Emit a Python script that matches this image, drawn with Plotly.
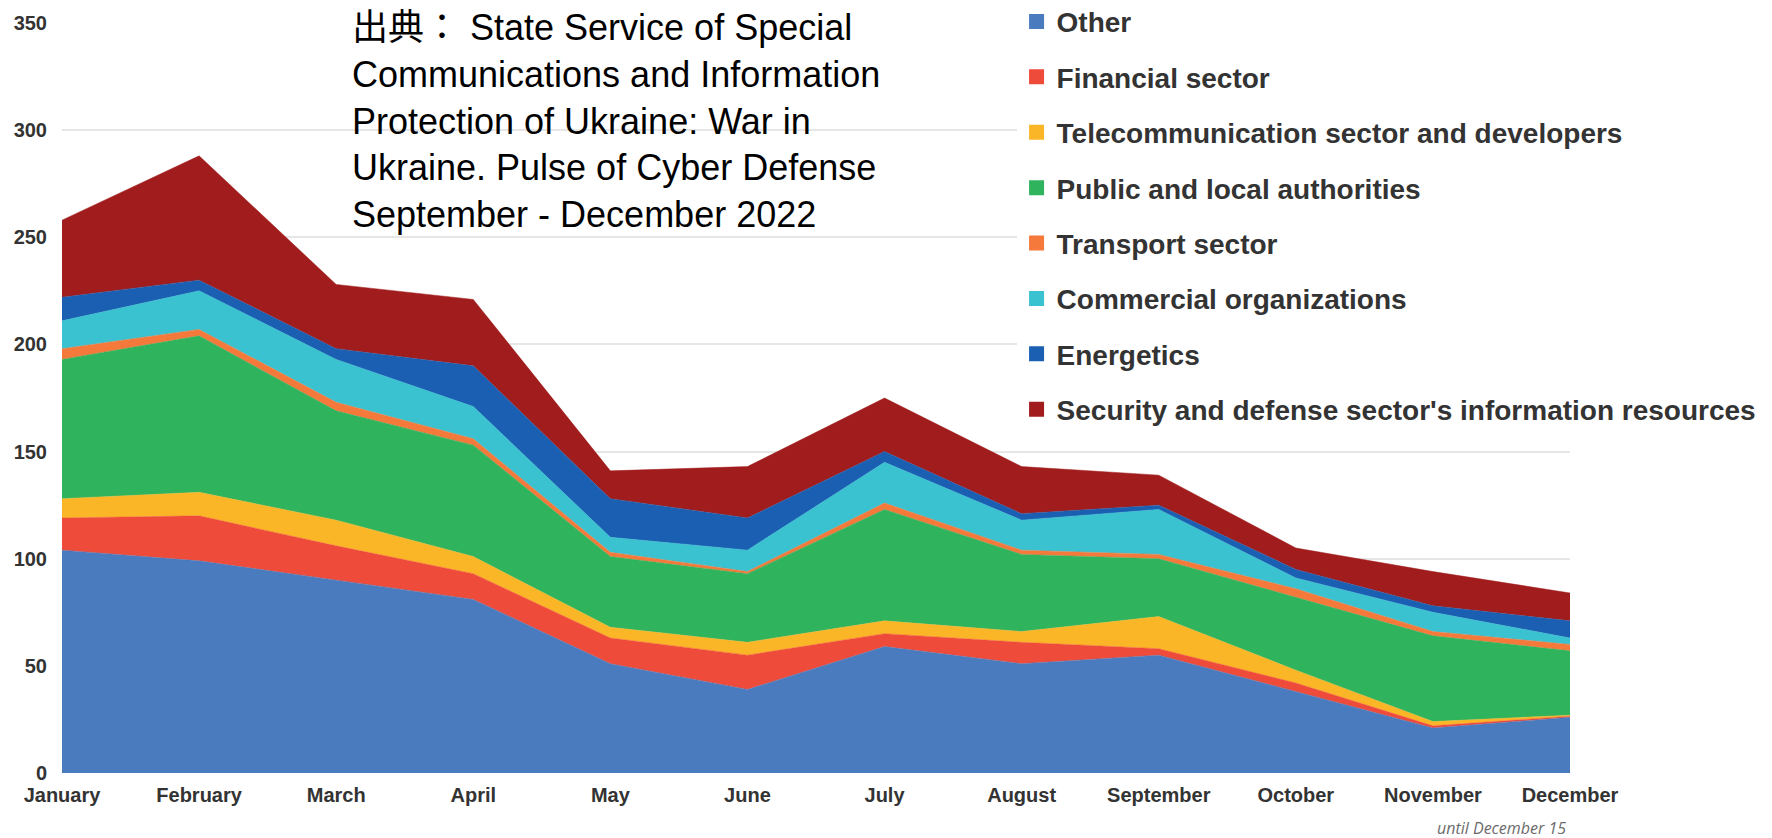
import plotly.graph_objects as go

months = ["January", "February", "March", "April", "May", "June", "July",
          "August", "September", "October", "November", "December"]

series_names = ["Other", "Financial sector", "Telecommunication sector and developers",
                "Public and local authorities", "Transport sector", "Commercial organizations",
                "Energetics", "Security and defense sector's information resources"]

other = [104, 99, 90, 81, 51, 39, 59, 51, 55, 38, 21, 26]
financial = [15, 21, 16, 12, 12, 16, 6, 10, 3, 4, 1, 0.5]
telecom = [9, 11, 12, 8, 5, 6, 6, 5, 15, 6, 2, 0.5]
public = [65, 73, 51, 52, 33, 32, 52, 36, 27, 34, 40, 30]
transport = [5, 3, 4, 3, 2, 1, 3, 2, 2, 4, 2, 3]
commercial = [13, 18, 20, 15, 7, 10, 19, 14, 21, 5, 9, 3]
energetics = [11, 5, 5, 19, 18, 15, 5, 3, 2, 4, 3, 8]
security = [36, 58, 30, 31, 13, 24, 25, 22, 14, 10, 16, 13]

y_ticks = [0, 50, 100, 150, 200, 250, 300, 350]

source_text = ("出典： State Service of Special<br>Communications and Information<br>"
               "Protection of Ukraine: War in<br>Ukraine. Pulse of Cyber Defense<br>"
               "September - December 2022")
note_text = "until December 15"

colors = ["#4a7bbf", "#ef4b3a", "#fbb628", "#2fb35d", "#f5793a", "#3ac2d0", "#1b5fb3", "#a11d1d"]
values = [other, financial, telecom, public, transport, commercial, energetics, security]

fig = go.Figure()
for name, vals, col in zip(series_names, values, colors):
    fig.add_trace(go.Scatter(
        x=months, y=vals, name=name, mode="lines", stackgroup="one",
        line=dict(width=0.5, color=col), fillcolor=col, showlegend=False,
        hoverinfo="x+y+name"))

for i, (name, col) in enumerate(zip(series_names, colors)):
    fig.add_trace(go.Scatter(
        x=[None], y=[None], name=name, mode="markers",
        marker=dict(symbol="square", size=15, color=col),
        legendgroup=f"g{i}", showlegend=True))

tick_font = dict(family="Arial, 'Liberation Sans', sans-serif", size=20, color="#333333",
                 weight="bold")

# page body adds an 8px offset, so the figure is 8px smaller than the window
fig.update_layout(
    width=1764, height=830,
    margin=dict(l=54, r=202, t=15, b=65, autoexpand=False),
    plot_bgcolor="white", paper_bgcolor="white",
    xaxis=dict(type="category", range=[0, 11], showgrid=False, zeroline=False,
               showline=False, ticks="", tickfont=tick_font, ticklabelstandoff=8),
    yaxis=dict(range=[0, 350], tickvals=y_ticks, showgrid=True, gridcolor="#e6e6e6",
               gridwidth=2, zeroline=False, showline=False, ticks="",
               tickfont=tick_font, ticklabelstandoff=14),
    legend=dict(x=0.633, y=1.035, xanchor="left", yanchor="top", bgcolor="white",
                traceorder="grouped", tracegroupgap=16, itemwidth=30, maxheight=800,
                font=dict(family="Arial, 'Liberation Sans', sans-serif", size=28,
                          color="#333333", weight="bold")),
    showlegend=True,
)

fig.add_annotation(
    text=source_text, xref="paper", yref="paper", x=0.191, y=0.870,
    xanchor="left", yanchor="middle", align="left", showarrow=False,
    font=dict(family="Arial, 'Liberation Sans', 'Noto Sans CJK JP', sans-serif",
              size=36, color="#000000"))

fig.add_annotation(
    text=note_text, xref="paper", yref="paper", x=0.999, y=-0.073,
    xanchor="right", yanchor="middle", showarrow=False,
    font=dict(family="'Open Sans', Lato, sans-serif", size=16, color="#6b6b6b",
              style="italic"))

fig.write_html("out.html")
